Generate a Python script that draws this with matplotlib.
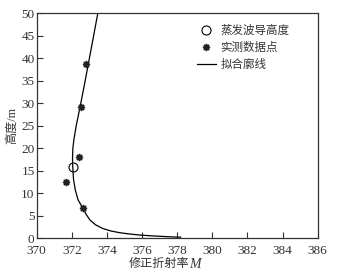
import matplotlib
matplotlib.use("Agg")
import matplotlib.pyplot as plt

plt.rcParams["font.family"] = ["Liberation Serif", "Noto Sans CJK SC"]
plt.rcParams["axes.unicode_minus"] = False

# ---- 数据----
# 拟合廓线
fit_h = [0.25, 0.33, 0.44, 0.58, 0.73, 0.95, 1.24, 1.65, 2.2, 3.0, 4.07, 5.3,
         6.7, 8.5, 10.7, 13.0, 16.0, 18.0, 20.0, 22.0, 25.0, 29.0, 35.0,
         40.0, 45.0, 50.0, 52.0]
fit_m = [378.2, 377.6, 377.05, 376.4, 375.87, 375.3, 374.73, 374.2, 373.75,
         373.35, 373.03, 372.82, 372.63, 372.36, 372.2, 372.1, 372.05,
         372.04, 372.06, 372.12, 372.25, 372.46, 372.76, 373.0, 373.24,
         373.48, 373.58]
# 实测数据点
obs_m = [371.65, 372.39, 372.63, 372.52, 372.8]
obs_h = [12.6, 18.1, 6.7, 29.1, 38.7]
# 蒸发波导高度
duct_m = [372.05]
duct_h = [15.9]

fig = plt.figure(figsize=(3.41, 2.76), dpi=100)
ax = fig.add_axes([0.1076, 0.1366, 0.8241, 0.8152])

ax.plot(duct_m, duct_h, "o", mfc="none", mec="black", ms=6.5, mew=0.8,
        label="蒸发波导高度", zorder=3)
ax.plot(obs_m, obs_h, ls="none", marker=(8, 1, 0), color="#222222", ms=5,
        label="实测数据点", zorder=3)
ax.plot(fit_m, fit_h, "-", color="black", lw=0.9, label="拟合廓线")

ax.set_xlim(370, 386)
ax.set_ylim(0, 50)
ax.set_xticks(range(370, 387, 2))
ax.set_yticks(range(0, 51, 5))
ax.tick_params(direction="in", length=4, width=0.8, labelsize=9.5,
               colors="#333333")
ax.tick_params(axis="x", pad=4.5)
ax.tick_params(axis="y", pad=1.5)
for s in ax.spines.values():
    s.set_linewidth(0.9)
    s.set_color("#333333")

# x 轴标题：中文 + 斜体 M
fig.text(0.555, 0.042, "修正折射率", fontsize=8.7, color="#333333",
         ha="right", va="center")
fig.text(0.555, 0.042, "M", fontsize=10, color="#333333", style="italic",
         family="Liberation Serif", ha="left", va="center")
ax.set_ylabel("高度/m", fontsize=8.7, labelpad=2, color="#333333")

leg = ax.legend(loc="upper right", frameon=False, fontsize=8.3,
                handlelength=1.6, handletextpad=0.4, labelspacing=0.45,
                borderaxespad=0.6, bbox_to_anchor=(0.94, 1.0))
for t in leg.get_texts():
    t.set_color("#333333")

fig.savefig("out.png", dpi=100)
